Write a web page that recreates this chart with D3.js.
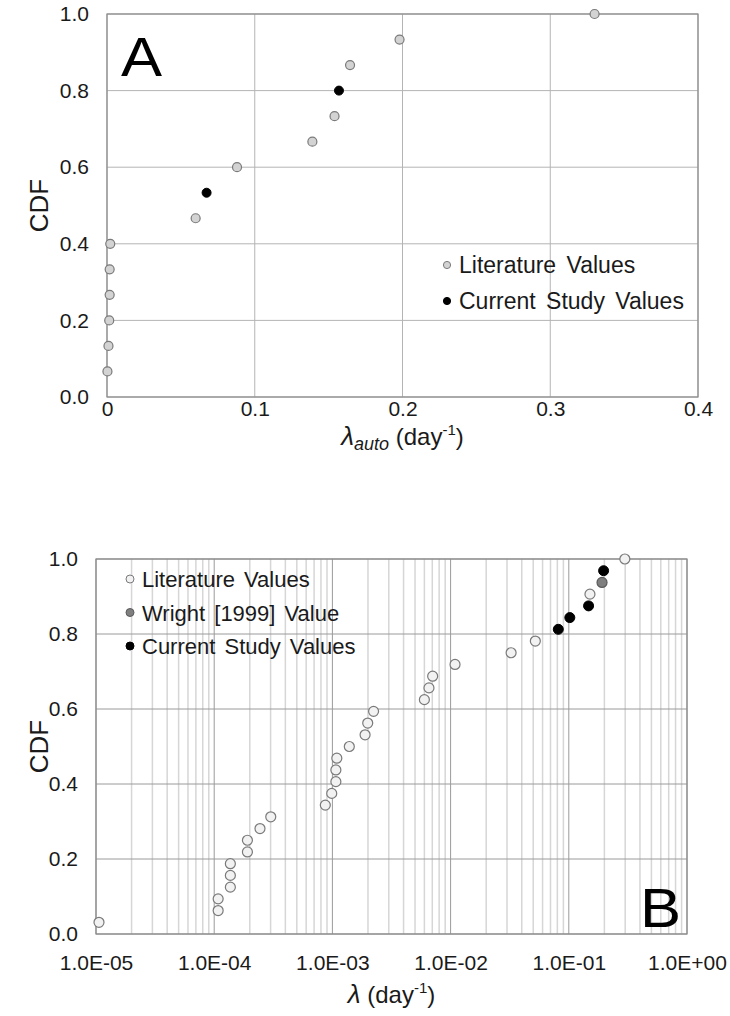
<!DOCTYPE html>
<html>
<head>
<meta charset="utf-8">
<script src="https://cdn.jsdelivr.net/npm/d3@7"></script>
<style>
  html, body { margin: 0; padding: 0; background: #fff; }
  svg { display: block; font-family: "Liberation Sans", Arial, sans-serif; }
</style>
</head>
<body>
<svg id="chart" width="730" height="1016"></svg>
<script>
// ---------- Data: Panel A ----------
const aLitX   = [0.0003, 0.001, 0.0015, 0.0018, 0.0018, 0.0022, 0.060, 0.088, 0.139, 0.154, 0.1645, 0.198, 0.330];
const aLitY   = [1/15, 2/15, 3/15, 4/15, 5/15, 6/15, 7/15, 9/15, 10/15, 11/15, 13/15, 14/15, 15/15];
const aCurX   = [0.0674, 0.157];
const aCurY   = [8/15, 12/15];
const aXTicks = [0, 0.1, 0.2, 0.3, 0.4];
const yTicks  = [0, 0.2, 0.4, 0.6, 0.8, 1.0];

// ---------- Data: Panel B ----------
const bLitX = [1.06e-5, 1.08e-4, 1.08e-4, 1.37e-4, 1.37e-4, 1.37e-4, 1.91e-4, 1.91e-4, 2.44e-4, 3.01e-4,
               8.71e-4, 9.87e-4, 1.07e-3, 1.07e-3, 1.09e-3, 1.39e-3, 1.89e-3, 1.99e-3, 2.23e-3,
               6.0e-3, 6.56e-3, 7.05e-3, 1.09e-2, 3.25e-2, 5.21e-2, 0.151, 0.298];
const bLitY = [1, 2, 3, 4, 5, 6, 7, 8, 9, 10,
               11, 12, 13, 14, 15, 16, 17, 18, 19,
               20, 21, 22, 23, 24, 25, 29, 32].map(i => i / 32);
const bWrightX = [0.191];
const bWrightY = [30 / 32];
const bCurX = [0.0815, 0.102, 0.147, 0.197];
const bCurY = [26, 27, 28, 31].map(i => i / 32);
const bXTicks = [1e-5, 1e-4, 1e-3, 1e-2, 1e-1, 1e0];
const bXTickLabels = ["1.0E-05", "1.0E-04", "1.0E-03", "1.0E-02", "1.0E-01", "1.0E+00"];

const svg = d3.select("#chart");
const fmt1 = d3.format(".1f");

// ================= PANEL A =================
const A = { left: 107, right: 698, top: 14, bottom: 397 };
const ax = d3.scaleLinear().domain([0, 0.4]).range([A.left, A.right]);
const ay = d3.scaleLinear().domain([0, 1]).range([A.bottom, A.top]);
const gA = svg.append("g");

gA.append("g").selectAll("line").data(aXTicks).join("line")
  .attr("x1", d => ax(d)).attr("x2", d => ax(d))
  .attr("y1", A.top).attr("y2", A.bottom)
  .attr("stroke", "#b4b4b4").attr("stroke-width", 1);
gA.append("g").selectAll("line").data(yTicks).join("line")
  .attr("x1", A.left).attr("x2", A.right)
  .attr("y1", d => ay(d)).attr("y2", d => ay(d))
  .attr("stroke", "#b4b4b4").attr("stroke-width", 1);
gA.append("rect").attr("x", A.left).attr("y", A.top)
  .attr("width", A.right - A.left).attr("height", A.bottom - A.top)
  .attr("fill", "none").attr("stroke", "#8a8a8a").attr("stroke-width", 1.2);

const axA = gA.append("g").attr("transform", `translate(0,${A.bottom})`)
  .call(d3.axisBottom(ax).tickValues(aXTicks).tickSize(0).tickPadding(4)
        .tickFormat(d => d === 0 ? "0" : fmt1(d)));
const ayA = gA.append("g").attr("transform", `translate(${A.left},0)`)
  .call(d3.axisLeft(ay).tickValues(yTicks).tickSize(0).tickPadding(18).tickFormat(fmt1));
[axA, ayA].forEach(g => {
  g.select(".domain").remove();
  g.selectAll("text").attr("font-size", 21).attr("fill", "#1a1a1a")
    .attr("font-family", "'Liberation Sans', Arial, sans-serif");
});

gA.append("g").selectAll("circle").data(aLitX.map((x, i) => [x, aLitY[i]])).join("circle")
  .attr("cx", d => ax(d[0])).attr("cy", d => ay(d[1])).attr("r", 4.5)
  .attr("fill", "#d3d3d3").attr("stroke", "#7a7a7a").attr("stroke-width", 1.2);
gA.append("g").selectAll("circle").data(aCurX.map((x, i) => [x, aCurY[i]])).join("circle")
  .attr("cx", d => ax(d[0])).attr("cy", d => ay(d[1])).attr("r", 4.5)
  .attr("fill", "#000").attr("stroke", "#000").attr("stroke-width", 1);

gA.append("text").attr("transform", "translate(121,76) scale(1.12,1)")
  .attr("font-size", 55).attr("fill", "#000").text("A");

const legA = [
  { label: "Literature Values", fill: "#d3d3d3", stroke: "#7a7a7a" },
  { label: "Current Study Values", fill: "#000", stroke: "#000" }
];
legA.forEach((d, i) => {
  const cy = 265 + i * 36;
  gA.append("circle").attr("cx", 447).attr("cy", cy).attr("r", 3.6)
    .attr("fill", d.fill).attr("stroke", d.stroke).attr("stroke-width", 1);
  gA.append("text").attr("x", 459).attr("y", cy + 8).attr("font-size", 23)
    .attr("word-spacing", 4).attr("fill", "#1a1a1a").text(d.label);
});

gA.append("text").attr("transform", `translate(48,${(A.top + A.bottom) / 2}) rotate(-90)`)
  .attr("text-anchor", "middle").attr("font-size", 26).attr("fill", "#1a1a1a").text("CDF");
const xtA = gA.append("text").attr("x", (A.left + A.right) / 2).attr("y", 445)
  .attr("text-anchor", "middle").attr("font-size", 24).attr("fill", "#1a1a1a");
xtA.append("tspan").attr("font-style", "italic").attr("font-size", 26).text("λ");
xtA.append("tspan").attr("font-style", "italic").attr("font-size", 18).attr("dy", 5).text("auto");
xtA.append("tspan").attr("dy", -5).text(" (day");
xtA.append("tspan").attr("font-size", 15).attr("dy", -10).text("-1");
xtA.append("tspan").attr("dy", 10).text(")");

// ================= PANEL B =================
const B = { left: 96, right: 687, top: 559, bottom: 934 };
const bx = d3.scaleLog().domain([1e-5, 1]).range([B.left, B.right]);
const by = d3.scaleLinear().domain([0, 1]).range([B.bottom, B.top]);
const gB = svg.append("g");

const minor = [];
for (let e = -5; e < 0; e++) for (let m = 2; m <= 9; m++) minor.push(m * Math.pow(10, e));
gB.append("g").selectAll("line").data(minor).join("line")
  .attr("x1", d => bx(d)).attr("x2", d => bx(d))
  .attr("y1", B.top).attr("y2", B.bottom)
  .attr("stroke", "#d6d6d6").attr("stroke-width", 1.5);
gB.append("g").selectAll("line").data(yTicks).join("line")
  .attr("x1", B.left).attr("x2", B.right)
  .attr("y1", d => by(d)).attr("y2", d => by(d))
  .attr("stroke", "#9a9a9a").attr("stroke-width", 1);
gB.append("g").selectAll("line").data(bXTicks).join("line")
  .attr("x1", d => bx(d)).attr("x2", d => bx(d))
  .attr("y1", B.top).attr("y2", B.bottom)
  .attr("stroke", "#9a9a9a").attr("stroke-width", 1);
gB.append("rect").attr("x", B.left).attr("y", B.top)
  .attr("width", B.right - B.left).attr("height", B.bottom - B.top)
  .attr("fill", "none").attr("stroke", "#8a8a8a").attr("stroke-width", 1.2);

const axB = gB.append("g").attr("transform", `translate(0,${B.bottom})`)
  .call(d3.axisBottom(bx).tickValues(bXTicks).tickSize(0).tickPadding(21)
        .tickFormat((d, i) => bXTickLabels[i]));
const ayB = gB.append("g").attr("transform", `translate(${B.left},0)`)
  .call(d3.axisLeft(by).tickValues(yTicks).tickSize(0).tickPadding(18).tickFormat(fmt1));
[axB, ayB].forEach(g => {
  g.select(".domain").remove();
  g.selectAll("text").attr("font-size", 21).attr("fill", "#1a1a1a")
    .attr("font-family", "'Liberation Sans', Arial, sans-serif");
});

gB.append("g").selectAll("circle").data(bLitX.map((x, i) => [x, bLitY[i]])).join("circle")
  .attr("cx", d => bx(d[0])).attr("cy", d => by(d[1])).attr("r", 5)
  .attr("fill", "#f2f2f2").attr("stroke", "#7a7a7a").attr("stroke-width", 1.2);
gB.append("g").selectAll("circle").data(bWrightX.map((x, i) => [x, bWrightY[i]])).join("circle")
  .attr("cx", d => bx(d[0])).attr("cy", d => by(d[1])).attr("r", 5)
  .attr("fill", "#7f7f7f").attr("stroke", "#5a5a5a").attr("stroke-width", 1.2);
gB.append("g").selectAll("circle").data(bCurX.map((x, i) => [x, bCurY[i]])).join("circle")
  .attr("cx", d => bx(d[0])).attr("cy", d => by(d[1])).attr("r", 5)
  .attr("fill", "#000").attr("stroke", "#000").attr("stroke-width", 1);

gB.append("text").attr("transform", "translate(640,927) scale(1.12,1)")
  .attr("font-size", 55).attr("fill", "#000").text("B");

const legB = [
  { label: "Literature Values", fill: "#f2f2f2", stroke: "#7a7a7a" },
  { label: "Wright [1999] Value", fill: "#7f7f7f", stroke: "#5a5a5a" },
  { label: "Current Study Values", fill: "#000", stroke: "#000" }
];
legB.forEach((d, i) => {
  const cy = 579 + i * 33.5;
  gB.append("circle").attr("cx", 130).attr("cy", cy).attr("r", 4)
    .attr("fill", d.fill).attr("stroke", d.stroke).attr("stroke-width", 1);
  gB.append("text").attr("x", 142).attr("y", cy + 8).attr("font-size", 22)
    .attr("word-spacing", 3).attr("fill", "#1a1a1a").text(d.label);
});

gB.append("text").attr("transform", `translate(48,${(B.top + B.bottom) / 2}) rotate(-90)`)
  .attr("text-anchor", "middle").attr("font-size", 26).attr("fill", "#1a1a1a").text("CDF");
const xtB = gB.append("text").attr("x", (B.left + B.right) / 2).attr("y", 1003)
  .attr("text-anchor", "middle").attr("font-size", 24).attr("fill", "#1a1a1a");
xtB.append("tspan").attr("font-style", "italic").attr("font-size", 26).text("λ");
xtB.append("tspan").text(" (day");
xtB.append("tspan").attr("font-size", 15).attr("dy", -10).text("-1");
xtB.append("tspan").attr("dy", 10).text(")");
</script>
</body>
</html>
